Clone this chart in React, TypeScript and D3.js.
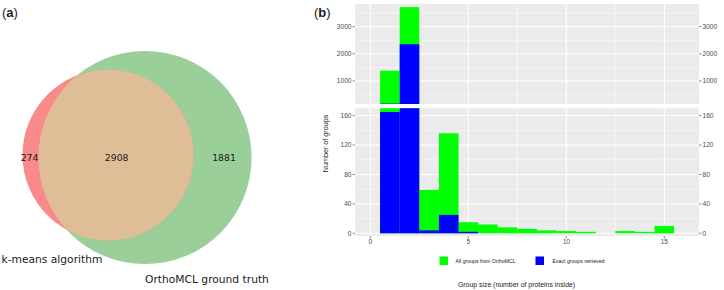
import * as d3 from 'd3';

// Venn counts
const VENN_ONLY_KMEANS = 274;
const VENN_SHARED = 2908;
const VENN_ONLY_ORTHO = 1881;
const VENN_SETS = ['k-means algorithm', 'OrthoMCL ground truth'];

// histogram of group sizes
const SIZES = [1, 2, 3, 4, 5, 6, 7, 8, 9, 10, 11, 12, 13, 14, 15];
const ALL_GROUPS = [1380, 3720, 59, 136, 15, 12, 8, 6, 4, 3, 2, 0, 3, 2, 10];
const EXACT_GROUPS = [165, 2354, 4, 25, 2, 0, 0, 0, 0, 0, 0, 0, 0, 0, 0];
const X_TICKS = [0, 5, 10, 15];
const TOP_TICKS = [1000, 2000, 3000];
const TOP_MINOR = [500, 1500, 2500, 3500];
const BOT_TICKS = [0, 40, 80, 120, 160];
const BOT_MINOR = [20, 60, 100, 140];
const LEGEND = ['All groups from OrthoMCL', 'Exact groups retrieved'];

const GREEN = '#00ff00';
const BLUE = '#0000ff';
const PANEL = '#ebebeb';
const TICK_TEXT = '#4d4d4d';
const SANS = 'Liberation Sans, Arial, sans-serif';
const VENN_FONT = 'DejaVu Sans, sans-serif';

const PX = { LEFT: 355, RIGHT: 699 };
const TOP = { Y0: 4, Y1: 104 };
const BOT = { Y0: 108.3, Y1: 236 };

const x = d3.scaleLinear().domain([-0.78, 16.77]).range([PX.LEFT, PX.RIGHT]);
const yTop = d3.scaleLinear().domain([153, 3836]).range([TOP.Y1, TOP.Y0]);
const yBot = d3.scaleLinear().domain([-3.7, 170]).range([BOT.Y1, BOT.Y0]);

const Venn = () => {
  const red = { cx: 108, cy: 155, r: 85.5 };
  const green = { cx: 145, cy: 157.5, r: 106.6 };
  return (
    <g>
      <defs>
        <clipPath id="redClip">
          <circle cx={red.cx} cy={red.cy} r={red.r} />
        </clipPath>
      </defs>
      <circle cx={green.cx} cy={green.cy} r={green.r} fill="#9bcf9a" />
      <circle cx={red.cx} cy={red.cy} r={red.r} fill="#f98a8a" />
      <circle cx={green.cx} cy={green.cy} r={green.r} fill="#dfbd97" clipPath="url(#redClip)" />
      <g fontFamily={VENN_FONT} fontSize={9.3} fill="#1a1a1a" textAnchor="middle">
        <text x={29.5} y={160.5}>{VENN_ONLY_KMEANS}</text>
        <text x={116.7} y={160.5}>{VENN_SHARED}</text>
        <text x={224} y={160.5}>{VENN_ONLY_ORTHO}</text>
      </g>
      <g fontFamily={VENN_FONT} fontSize={10.7} fill="#1a1a1a">
        <text x={1.5} y={262.5}>{VENN_SETS[0]}</text>
        <text x={145} y={282.5}>{VENN_SETS[1]}</text>
      </g>
      <text x={2} y={17} fontFamily={SANS} fontSize={13} fill="#1a1a1a">
        (<tspan fontWeight="bold">a</tspan>)
      </text>
    </g>
  );
};

type Panel = { y: d3.ScaleLinear<number, number>; y0: number; y1: number; ticks: number[]; minor: number[]; id: string };

const HistPanel = ({ y, y0, y1, ticks, minor, id }: Panel) => {
  const bw = x(1) - x(0);
  const base = y(Math.max(0, y.domain()[0]));
  return (
    <g>
      <defs>
        <clipPath id={id}>
          <rect x={PX.LEFT} y={y0} width={PX.RIGHT - PX.LEFT} height={y1 - y0} />
        </clipPath>
      </defs>
      <rect x={PX.LEFT} y={y0} width={PX.RIGHT - PX.LEFT} height={y1 - y0} fill={PANEL} />
      {minor.map((t) => (
        <line key={'m' + t} x1={PX.LEFT} x2={PX.RIGHT} y1={y(t)} y2={y(t)} stroke="#fff" strokeWidth={0.5} />
      ))}
      {[2.5, 7.5, 12.5].map((t) => (
        <line key={'mx' + t} x1={x(t)} x2={x(t)} y1={y0} y2={y1} stroke="#fff" strokeWidth={0.5} />
      ))}
      {ticks.map((t) => (
        <line key={'g' + t} x1={PX.LEFT} x2={PX.RIGHT} y1={y(t)} y2={y(t)} stroke="#fff" strokeWidth={1} />
      ))}
      {X_TICKS.map((t) => (
        <line key={'gx' + t} x1={x(t)} x2={x(t)} y1={y0} y2={y1} stroke="#fff" strokeWidth={1} />
      ))}
      <g clipPath={`url(#${id})`}>
        {SIZES.map((s, i) =>
          ALL_GROUPS[i] > 0 ? (
            <rect key={'a' + s} x={x(s - 0.5)} width={bw} y={y(ALL_GROUPS[i])} height={Math.max(0, base - y(ALL_GROUPS[i]))} fill={GREEN} />
          ) : null
        )}
        {SIZES.map((s, i) =>
          EXACT_GROUPS[i] > 0 ? (
            <rect key={'e' + s} x={x(s - 0.5)} width={bw} y={y(EXACT_GROUPS[i])} height={Math.max(0, base - y(EXACT_GROUPS[i]))} fill={BLUE} />
          ) : null
        )}
      </g>
      <g fontFamily={SANS} fontSize={6.6} fill={TICK_TEXT}>
        {ticks.map((t) => (
          <g key={'t' + t}>
            <line x1={PX.LEFT - 2.5} x2={PX.LEFT} y1={y(t)} y2={y(t)} stroke="#333" strokeWidth={0.6} />
            <line x1={PX.RIGHT} x2={PX.RIGHT + 2.5} y1={y(t)} y2={y(t)} stroke="#333" strokeWidth={0.6} />
            <text x={PX.LEFT - 3.5} y={y(t) + 2.3} textAnchor="end">{t}</text>
            <text x={PX.RIGHT + 3.5} y={y(t) + 2.3}>{t}</text>
          </g>
        ))}
      </g>
    </g>
  );
};

const Histogram = () => (
  <g>
    <HistPanel y={yTop} y0={TOP.Y0} y1={TOP.Y1} ticks={TOP_TICKS} minor={TOP_MINOR} id="clipTop" />
    <HistPanel y={yBot} y0={BOT.Y0} y1={BOT.Y1} ticks={BOT_TICKS} minor={BOT_MINOR} id="clipBot" />
    <g fontFamily={SANS} fontSize={6.6} fill={TICK_TEXT} textAnchor="middle">
      {X_TICKS.map((t) => (
        <g key={t}>
          <line x1={x(t)} x2={x(t)} y1={BOT.Y1} y2={BOT.Y1 + 2.5} stroke="#333" strokeWidth={0.6} />
          <text x={x(t)} y={BOT.Y1 + 8}>{t}</text>
        </g>
      ))}
    </g>
    <text
      transform={`translate(327.5, 143.5) rotate(-90)`}
      textAnchor="middle"
      fontFamily={SANS}
      fontSize={7.2}
      fill="#1a1a1a"
    >
      Number of groups
    </text>
    <g fontFamily={SANS} fontSize={5.2} fill="#1a1a1a">
      <rect x={439.5} y={256.5} width={8.5} height={8.5} fill={GREEN} />
      <text x={455.5} y={262.8}>{LEGEND[0]}</text>
      <rect x={535.5} y={256.5} width={8.5} height={8.5} fill={BLUE} />
      <text x={552.5} y={262.8}>{LEGEND[1]}</text>
    </g>
    <text x={516.5} y={286.5} textAnchor="middle" fontFamily={SANS} fontSize={6.9} fill="#1a1a1a">
      Group size (number of proteins inside)
    </text>
    <text x={314} y={17} fontFamily={SANS} fontSize={13} fill="#1a1a1a">
      (<tspan fontWeight="bold">b</tspan>)
    </text>
  </g>
);

export default function App() {
  return (
    <svg width={724} height={290} style={{ position: 'absolute', left: 0, top: 0, background: '#fff' }}>
      <Venn />
      <Histogram />
    </svg>
  );
}
